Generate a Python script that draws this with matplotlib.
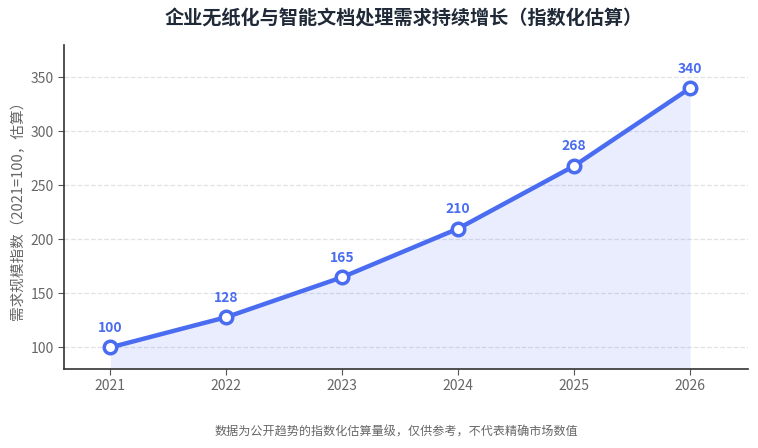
import matplotlib.pyplot as plt

plt.rcParams['font.family'] = ['Noto Sans CJK SC', 'DejaVu Sans']

years = [2021, 2022, 2023, 2024, 2025, 2026]
index_values = [100, 128, 165, 210, 268, 340]

line_color = '#4a6cf0'

fig = plt.figure(figsize=(7.58, 4.48), dpi=100)
ax = fig.add_axes([64 / 758, 1 - 369 / 448, (748 - 64) / 758, (369 - 45) / 448])

ax.fill_between(years, index_values, 80, color=line_color, alpha=0.12, linewidth=0)
ax.plot(years, index_values, color=line_color, linewidth=3.2, zorder=3,
        marker='o', markersize=9, markerfacecolor='white',
        markeredgecolor=line_color, markeredgewidth=2.5)

for x, y in zip(years, index_values):
    ax.annotate(str(y), (x, y), xytext=(0, 9), textcoords='offset points',
                ha='center', va='bottom', fontsize=10, fontweight='bold',
                color=line_color)

ax.set_xlim(2020.6, 2026.5)
ax.set_ylim(80, 380)
ax.set_xticks(years)
ax.set_yticks([100, 150, 200, 250, 300, 350])
ax.grid(axis='y', linestyle='--', color='#e0e2e8', linewidth=0.9)
ax.set_axisbelow(True)

for side in ['top', 'right']:
    ax.spines[side].set_visible(False)
for side in ['left', 'bottom']:
    ax.spines[side].set_color('#333333')
    ax.spines[side].set_linewidth(1.2)

ax.tick_params(labelsize=10, colors='#666666', length=4)
ax.tick_params(axis='both', color='#555555')
ax.set_ylabel('需求规模指数（2021=100，估算）', fontsize=10.5, color='#666666')

fig.text(404 / 758, 1 - 19 / 448, '企业无纸化与智能文档处理需求持续增长（指数化估算）',
         ha='center', va='center', fontsize=13.8, fontweight='bold', color='#1f2937')
fig.text(396 / 758, 1 - 432 / 448, '数据为公开趋势的指数化估算量级，仅供参考，不代表精确市场数值',
         ha='center', va='center', fontsize=8.7, color='#666666')

fig.savefig('out.png', dpi=100)
